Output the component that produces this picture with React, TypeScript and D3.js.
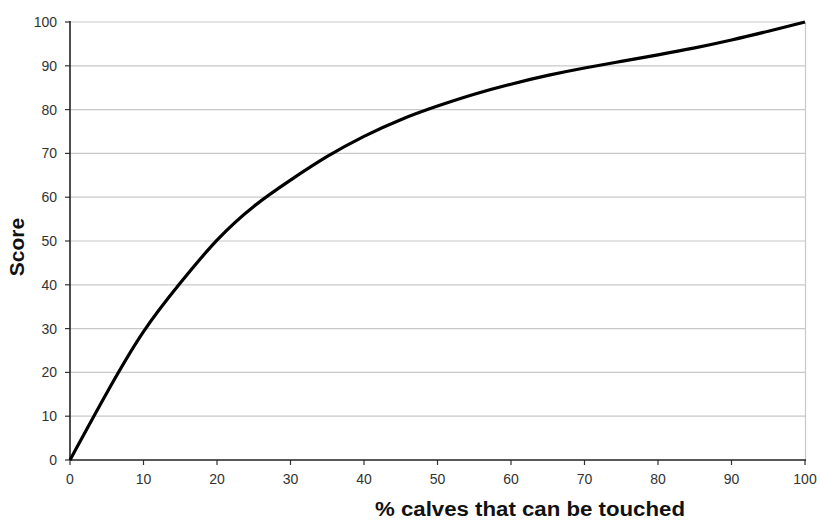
import React from "react";
import * as d3 from "d3";

const xValues = [0, 5, 10, 15, 20, 25, 30, 35, 40, 45, 50, 55, 60, 65, 70, 75, 80, 85, 90, 95, 100];
const scores = [0, 15.3, 29.3, 40.4, 50.2, 57.9, 63.9, 69.3, 73.9, 77.7, 80.8, 83.5, 85.8, 87.8, 89.5, 91.0, 92.5, 94.1, 95.9, 97.9, 100];
const xTicks = [0, 10, 20, 30, 40, 50, 60, 70, 80, 90, 100];
const yTicks = [0, 10, 20, 30, 40, 50, 60, 70, 80, 90, 100];
const xTitle = "% calves that can be touched";
const yTitle = "Score";

export default function App() {
  const W = 820, H = 520;
  const x = d3.scaleLinear().domain([0, 100]).range([70, 805]);
  const y = d3.scaleLinear().domain([0, 100]).range([460, 22]);
  const data = xValues.map((v, i) => ({ x: v, y: scores[i] }));
  const line = d3.line<{ x: number; y: number }>()
    .x(d => x(d.x))
    .y(d => y(d.y))
    .curve(d3.curveNatural);
  const font = "'Liberation Sans', Arial, sans-serif";
  return (
    <svg width={W} height={H} style={{ position: "absolute", left: 0, top: 0, background: "#fff" }} fontFamily={font}>
      {yTicks.filter(t => t > 0).map(t => (
        <line key={"g" + t} x1={x(0)} x2={x(100)} y1={y(t)} y2={y(t)} stroke="#c8c8c8" strokeWidth={1.2} />
      ))}
      <line x1={x(100) + 0.5} x2={x(100) + 0.5} y1={y(100)} y2={y(0)} stroke="#c8c8c8" strokeWidth={1.2} />
      {yTicks.map(t => (
        <g key={"y" + t}>
          <line x1={x(0) - 5} x2={x(0)} y1={y(t)} y2={y(t)} stroke="#333" strokeWidth={1.2} />
          <text x={57} y={y(t)} dy="0.35em" textAnchor="end" fontSize={14} fill="#333">{t}</text>
        </g>
      ))}
      {xTicks.map(t => (
        <g key={"x" + t}>
          <line x1={x(t)} x2={x(t)} y1={y(0)} y2={y(0) + 5} stroke="#333" strokeWidth={1.2} />
          <text x={x(t)} y={479.5} dy="0.35em" textAnchor="middle" fontSize={14} fill="#333">{t}</text>
        </g>
      ))}
      <line x1={x(0)} x2={x(0)} y1={y(100) - 1} y2={y(0)} stroke="#222" strokeWidth={1.6} />
      <line x1={x(0)} x2={x(100) + 1} y1={y(0)} y2={y(0)} stroke="#222" strokeWidth={1.6} />
      <path d={line(data) || ""} fill="none" stroke="#000" strokeWidth={3.2} strokeLinejoin="round" />
      <text x={530} y={516} textAnchor="middle" fontSize={20} fontWeight="bold" fill="#111" textLength={310} lengthAdjust="spacingAndGlyphs">{xTitle}</text>
      <text transform={`translate(24,247) rotate(-90)`} textAnchor="middle" fontSize={21} fontWeight="bold" fill="#111">{yTitle}</text>
    </svg>
  );
}
